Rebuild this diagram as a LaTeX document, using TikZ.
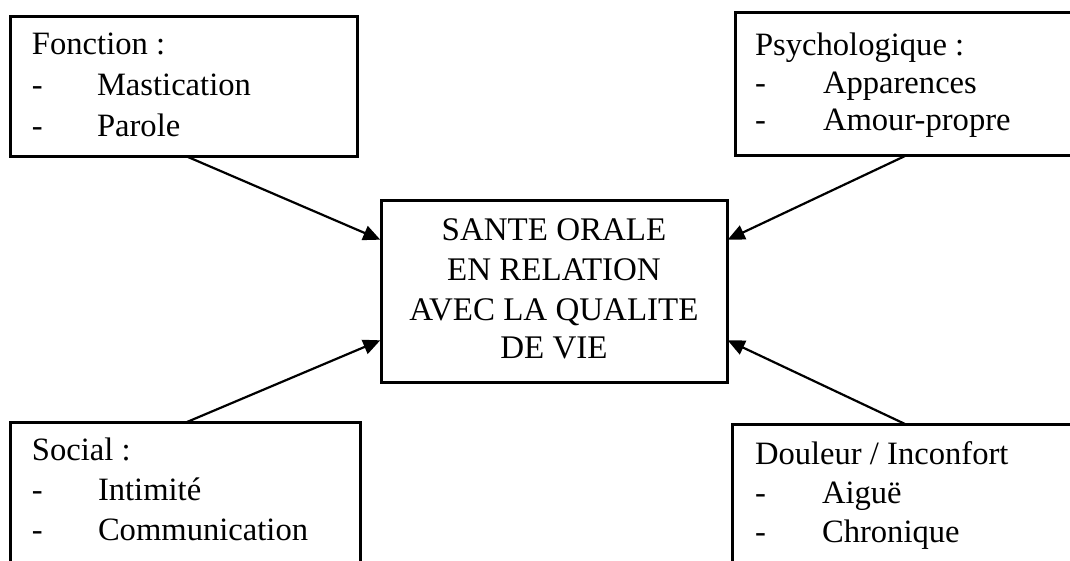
\documentclass[tikz,border=0pt]{standalone}
\usepackage{fontspec}
\setmainfont{Liberation Serif}
\usetikzlibrary{calc,arrows.meta}
\tikzset{
  box/.style={draw, line width=1.5pt, rectangle, inner sep=0pt, outer sep=0pt, anchor=north west},
  txt/.style={anchor=base west, inner sep=0pt, outer sep=0pt, font=\fontsize{16.3}{20}\selectfont},
  ctxt/.style={anchor=base, inner sep=0pt, outer sep=0pt, font=\fontsize{16.5}{20}\selectfont},
  conn/.style={line width=1.1pt, -{Triangle[length=8.5pt,width=7.5pt]}, shorten >=0.4pt}
}
\begin{document}
\begin{tikzpicture}[x=0.5pt,y=-0.5pt]
\useasboundingbox (0,0) rectangle (1070,561);
\clip (0,0) rectangle (1070,561);
\fill[white] (0,0) rectangle (1070,561);
% boxes
\node[box, minimum width=173.5pt, minimum height=70pt] (tl) at (10,17) {};
\node[box, minimum width=172.5pt, minimum height=71.5pt] (tr) at (735,13) {};
\node[box, minimum width=173pt, minimum height=90.5pt] (c) at (381,201) {};
\node[box, minimum width=175pt, minimum height=79pt] (bl) at (10,422) {};
\node[box, minimum width=174pt, minimum height=79pt] (br) at (732,424) {};
% top-left text
\node[txt] (tl0) at (32,55) {Fonction :};
\node[txt] (tl1d) at (32,96) {-};
\node[txt] (tl1) at (97,96) {Mastication};
\node[txt] (tl2d) at (32,137) {-};
\node[txt] (tl2) at (97,137) {Parole};
% top-right text
\node[txt] (tr0) at (755,56) {Psychologique :};
\node[txt] (tr1d) at (755,94) {-};
\node[txt] (tr1) at (823,94) {Apparences};
\node[txt] (tr2d) at (755,131) {-};
\node[txt] (tr2) at (823,131) {Amour-propre};
% bottom-left text
\node[txt] (bl0) at (32,460) {Social :};
\node[txt] (bl1d) at (32,500) {-};
\node[txt] (bl1) at (98,500) {Intimité};
\node[txt] (bl2d) at (32,540) {-};
\node[txt] (bl2) at (98,540) {Communication};
% bottom-right text
\node[txt] (br0) at (755,464) {Douleur / Inconfort};
\node[txt] (br1d) at (755,503) {-};
\node[txt] (br1) at (822,503) {Aiguë};
\node[txt] (br2d) at (755,542) {-};
\node[txt] (br2) at (822,542) {Chronique};
% center text
\node[ctxt] (c0) at (554,241) {SANTE ORALE};
\node[ctxt] (c1) at (554,280) {EN RELATION};
\node[ctxt] (c2) at (554,320) {AVEC LA QUALITE};
\node[ctxt] (c3) at (554,358) {DE VIE};
% connectors
\draw[conn] ($(tl.south west)+(178,0)$) -- ($(c.north west)+(0,39)$);
\draw[conn] ($(tr.south west)+(170,0)$) -- ($(c.north east)+(0,39)$);
\draw[conn] ($(bl.north west)+(177,0)$) -- ($(c.north west)+(0,139)$);
\draw[conn] ($(br.north west)+(173,0)$) -- ($(c.north east)+(0,139)$);
\end{tikzpicture}
\end{document}
